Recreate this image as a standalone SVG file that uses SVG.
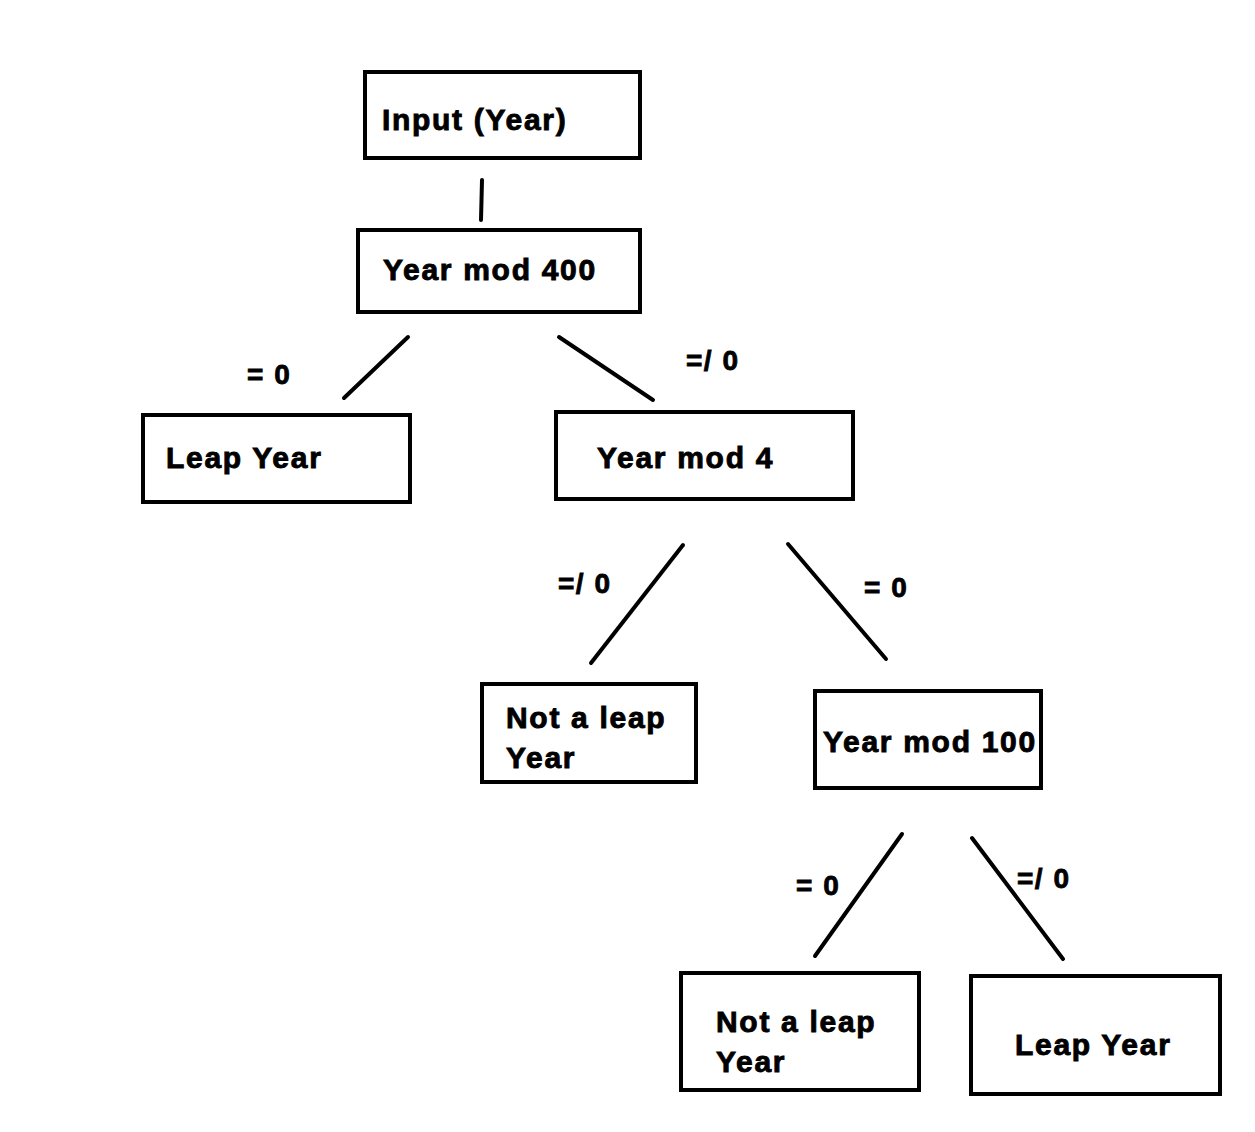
<svg xmlns="http://www.w3.org/2000/svg" width="1255" height="1132" viewBox="0 0 1255 1132">
<style>
.box{fill:#fff;stroke:#000;stroke-width:4}
.t{font-family:"Liberation Sans",Arial,sans-serif;font-weight:bold;font-size:30px;letter-spacing:1.7px;fill:#000;stroke:#000;stroke-width:0.9px}
.l{font-family:"Liberation Sans",Arial,sans-serif;font-weight:bold;font-size:28px;letter-spacing:1.5px;fill:#000;stroke:#000;stroke-width:0.8px}
.c{stroke:#000;stroke-width:4;stroke-linecap:round;fill:none}
</style>
<rect width="1255" height="1132" fill="#fff"/>
<g id="connectors">
<line class="c" x1="482" y1="180" x2="481" y2="220"/>
<line class="c" x1="408" y1="337" x2="344" y2="398"/>
<line class="c" x1="559" y1="337" x2="653" y2="400"/>
<line class="c" x1="683" y1="545" x2="591" y2="663"/>
<line class="c" x1="788" y1="544" x2="886" y2="659"/>
<line class="c" x1="902" y1="834" x2="815" y2="956"/>
<line class="c" x1="972" y1="838" x2="1063" y2="959"/>
<text class="l" x="247" y="384">= 0</text>
<text class="l" x="686" y="370">=/ 0</text>
<text class="l" x="558" y="593">=/ 0</text>
<text class="l" x="864" y="597">= 0</text>
<text class="l" x="796" y="895">= 0</text>
<text class="l" x="1017" y="888">=/ 0</text>
</g>
<g id="n-input"><rect class="box" x="365" y="72" width="275" height="86"/><text class="t" x="382" y="130">Input (Year)</text></g>
<g id="n-mod400"><rect class="box" x="358" y="230" width="282" height="82"/><text class="t" x="383" y="280">Year mod 400</text></g>
<g id="n-leap1"><rect class="box" x="143" y="415" width="267" height="87"/><text class="t" x="166" y="468">Leap Year</text></g>
<g id="n-mod4"><rect class="box" x="556" y="412" width="297" height="87"/><text class="t" x="597" y="468">Year mod 4</text></g>
<g id="n-notleap1"><rect class="box" x="482" y="684" width="214" height="98"/><text class="t" x="506" y="728">Not a leap</text><text class="t" x="506" y="768">Year</text></g>
<g id="n-mod100"><rect class="box" x="815" y="691" width="226" height="97"/><text class="t" x="823" y="752">Year mod 100</text></g>
<g id="n-notleap2"><rect class="box" x="681" y="973" width="238" height="117"/><text class="t" x="716" y="1032">Not a leap</text><text class="t" x="716" y="1072">Year</text></g>
<g id="n-leap2"><rect class="box" x="971" y="976" width="249" height="118"/><text class="t" x="1015" y="1055">Leap Year</text></g>
</svg>
